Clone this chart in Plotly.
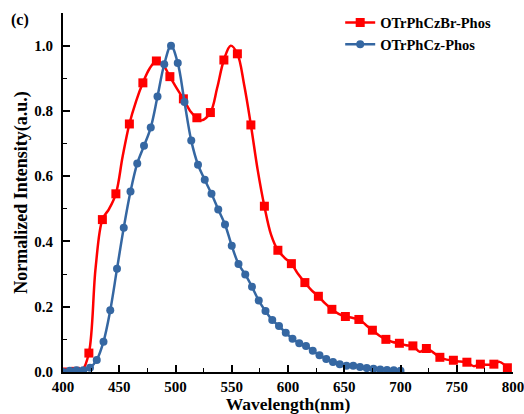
import plotly.graph_objects as go

# OTrPhCzBr-Phos: sampled every 6 nm, squares drawn on every other sample
br_wl = [400, 405, 411, 417, 423, 429, 435, 441, 447, 453, 459, 465, 471, 477,
         483, 489, 495, 501, 507, 513, 519, 523, 531, 537, 543, 549, 555, 561,
         567, 573, 579, 585, 591, 597, 603, 609, 615, 621, 627, 633, 639, 645,
         651, 657, 663, 669, 675, 681, 687, 693, 699, 705, 711, 717, 723, 729,
         735, 741, 747, 753, 759, 765, 771, 777, 783, 788, 795]
br_int = [0.000, 0.000, 0.002, 0.005, 0.058, 0.320, 0.467, 0.500, 0.546, 0.660,
          0.760, 0.830, 0.886, 0.930, 0.953, 0.940, 0.905, 0.870, 0.837, 0.800,
          0.779, 0.771, 0.795, 0.870, 0.956, 1.000, 0.975, 0.880, 0.757, 0.620,
          0.508, 0.420, 0.373, 0.350, 0.332, 0.300, 0.274, 0.250, 0.232, 0.210,
          0.192, 0.178, 0.170, 0.166, 0.161, 0.145, 0.128, 0.112, 0.100, 0.092,
          0.088, 0.082, 0.080, 0.062, 0.072, 0.060, 0.045, 0.038, 0.036, 0.032,
          0.030, 0.018, 0.024, 0.022, 0.024, 0.031, 0.013]
br_marked = [400, 411, 423, 435, 447, 459, 471, 483, 495, 507, 519, 531, 543,
             555, 567, 579, 591, 603, 615, 627, 639, 651, 663, 675, 687, 699,
             711, 723, 735, 747, 759, 771, 783, 795]

# OTrPhCz-Phos: sampled every 6 nm, every sample marked
cz_wl = [400, 406, 412, 418, 424, 430, 436, 442, 448, 454, 460, 466, 472, 478,
         484, 490, 496, 502, 508, 514, 520, 526, 532, 538, 544, 550, 556, 562,
         568, 574, 580, 586, 592, 598, 604, 610, 616, 622, 628, 634, 640, 646,
         652, 658, 664, 670, 676, 682, 688, 694, 700]
cz_int = [0.000, 0.004, 0.005, 0.005, 0.013, 0.037, 0.093, 0.189, 0.316, 0.442,
          0.553, 0.639, 0.693, 0.749, 0.844, 0.943, 1.000, 0.947, 0.827, 0.709,
          0.635, 0.589, 0.546, 0.498, 0.452, 0.387, 0.331, 0.299, 0.261, 0.219,
          0.187, 0.159, 0.141, 0.120, 0.102, 0.088, 0.080, 0.065, 0.051, 0.040,
          0.031, 0.024, 0.019, 0.019, 0.015, 0.012, 0.010, 0.008, 0.006, 0.005,
          0.004]

RED = "#FF0000"
BLUE = "#3567A2"
FONT = "Liberation Serif"

br_mx = [w for w in br_wl if w in br_marked]
br_my = [v for w, v in zip(br_wl, br_int) if w in br_marked]

fig = go.Figure()

# legend entry for the red series (line + square)
fig.add_trace(go.Scatter(
    x=[None], y=[None], mode="lines+markers", name="OTrPhCzBr-Phos",
    line=dict(color=RED, width=2.5),
    marker=dict(symbol="square", size=9, color=RED)))

fig.add_trace(go.Scatter(
    x=br_wl, y=br_int, mode="lines", showlegend=False,
    line=dict(color=RED, width=2.5, shape="spline", smoothing=1.0)))
fig.add_trace(go.Scatter(
    x=br_mx, y=br_my, mode="markers", showlegend=False,
    marker=dict(symbol="square", size=9, color=RED)))

fig.add_trace(go.Scatter(
    x=cz_wl, y=cz_int, mode="lines+markers", name="OTrPhCz-Phos",
    line=dict(color=BLUE, width=2.5, shape="spline", smoothing=1.0),
    marker=dict(symbol="circle", size=8, color=BLUE)))

axis_common = dict(
    showline=True, linecolor="black", linewidth=1.8, mirror=False,
    ticks="inside", ticklen=7, tickwidth=1.5, tickcolor="black",
    showgrid=False, zeroline=False, automargin=False,
    ticklabeloverflow="allow",
    tickfont=dict(family=FONT, size=15, color="black", weight="bold"),
)

fig.update_xaxes(
    range=[400, 800], dtick=50, tick0=400,
    minor=dict(dtick=25, ticks="inside", ticklen=4, tickwidth=1.2, tickcolor="black"),
    title=dict(text="Wavelength(nm)", standoff=2,
               font=dict(family=FONT, size=17.5, color="black", weight="bold")),
    **axis_common)
fig.update_yaxes(
    range=[0, 1.1], dtick=0.2, tick0=0, tickformat=".1f", ticklabelstandoff=5,
    minor=dict(dtick=0.1, ticks="inside", ticklen=4, tickwidth=1.2, tickcolor="black"),
    **axis_common)

# vertical axis title, placed as rotated text left of the tick labels
fig.add_annotation(
    text="Normalized Intensity(a.u.)", xref="paper", yref="paper",
    x=-0.093, y=0.5, textangle=-90, xanchor="center", yanchor="middle",
    showarrow=False,
    font=dict(family=FONT, size=18, color="black", weight="bold"))

fig.add_annotation(
    text="(c)", xref="paper", yref="paper", x=-0.095, y=0.98,
    xanchor="center", yanchor="middle", showarrow=False,
    font=dict(family=FONT, size=16, color="black", weight="bold"))

fig.update_layout(
    width=524, height=414,
    margin=dict(l=63, r=11, t=13, b=42, autoexpand=False),
    plot_bgcolor="white", paper_bgcolor="white",
    legend=dict(
        x=0.616, y=1.018, xanchor="left", yanchor="top",
        bgcolor="rgba(0,0,0,0)", borderwidth=0,
        font=dict(family=FONT, size=14.5, color="black", weight="bold"),
        tracegroupgap=0, itemwidth=30),
)

fig.write_html("out.html")
